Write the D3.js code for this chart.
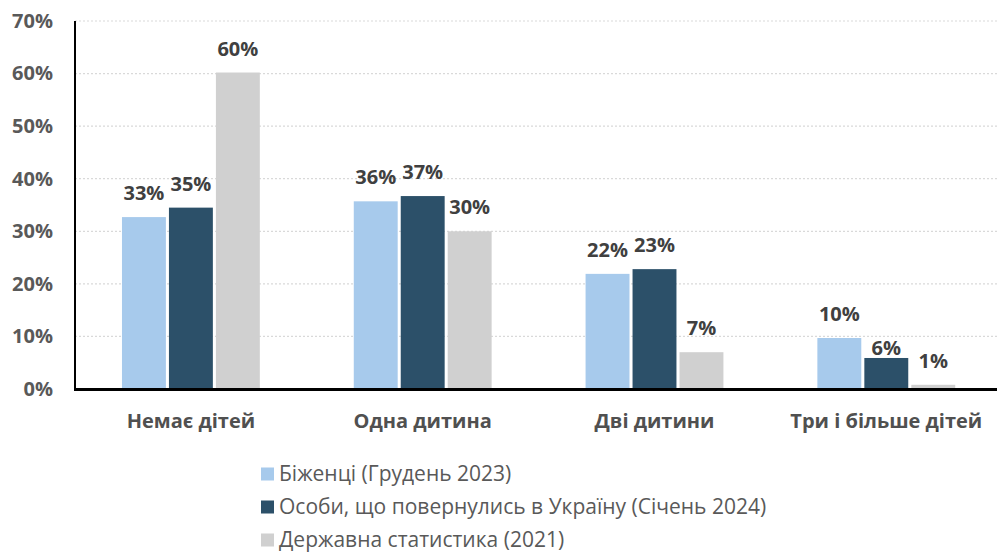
<!DOCTYPE html>
<html>
<head>
<meta charset="utf-8">
<script src="https://cdn.jsdelivr.net/npm/d3@7"></script>
<style>
  html, body { margin: 0; padding: 0; background: #fff; }
  svg { display: block; }
</style>
</head>
<body>
<svg id="chart" width="997" height="553"></svg>
<script>
const categories = ["Немає дітей", "Одна дитина", "Дві дитини", "Три і більше дітей"];
const seriesNames = ["Біженці (Грудень 2023)", "Особи, що повернулись в Україну (Січень 2024)", "Державна статистика (2021)"];
const refugees = [32.7, 35.7, 21.9, 9.7];
const returnees = [34.5, 36.7, 22.8, 5.9];
const stateStats = [60.2, 30.0, 7.0, 0.8];
const refugeesLabels = ["33%", "36%", "22%", "10%"];
const returneesLabels = ["35%", "37%", "23%", "6%"];
const stateStatsLabels = ["60%", "30%", "7%", "1%"];
const yTicks = [0, 10, 20, 30, 40, 50, 60, 70];
const colors = ["#a7caec", "#2c5069", "#d0d0d0"];

const seriesValues = [refugees, returnees, stateStats];
const seriesLabels = [refugeesLabels, returneesLabels, stateStatsLabels];

const svg = d3.select("#chart");
const m = { left: 75, right: 997, top: 21, bottom: 389 };

const x = d3.scaleBand().domain(categories).range([m.left, m.left + 4 * 231.8]).paddingInner(0).paddingOuter(0);
const x1 = d3.scaleBand().domain(d3.range(3)).range([0, x.bandwidth()]).paddingInner(0.065).paddingOuter(1.0);
const y = d3.scaleLinear().domain([0, 70]).range([m.bottom, m.top]);

// gridlines
svg.append("g").selectAll("line").data(yTicks.filter(t => t > 0)).join("line")
  .attr("x1", m.left).attr("x2", m.right)
  .attr("y1", d => y(d)).attr("y2", d => y(d))
  .attr("stroke", "#d9d9d9").attr("stroke-width", 1.2).attr("stroke-dasharray", "2,2");

// y tick labels
const yAxis = d3.axisLeft(y).tickValues(yTicks).tickFormat(d => d + "%").tickSize(0).tickPadding(22);
const gy = svg.append("g").attr("transform", `translate(${m.left},0)`).call(yAxis);
gy.select(".domain").remove();
gy.selectAll("text").attr("font-family", "'Open Sans', sans-serif").attr("font-weight", "bold")
  .attr("font-size", 20).attr("fill", "#595959");

// bars
categories.forEach((c, ci) => {
  seriesValues.forEach((vals, si) => {
    const bx = x(c) + x1(si);
    svg.append("rect")
      .attr("x", bx).attr("width", x1.bandwidth())
      .attr("y", y(vals[ci])).attr("height", y(0) - y(vals[ci]))
      .attr("fill", colors[si]);
    svg.append("text")
      .attr("x", bx + x1.bandwidth() / 2)
      .attr("y", y(vals[ci]) - (si === 1 && ci === 3 ? 3 : 17))
      .attr("text-anchor", "middle")
      .attr("font-family", "'Open Sans', sans-serif").attr("font-weight", "bold")
      .attr("font-size", 20).attr("fill", "#404040")
      .text(seriesLabels[si][ci]);
  });
});

// axes lines
svg.append("line").attr("x1", m.left).attr("x2", m.left).attr("y1", m.top).attr("y2", m.bottom + 1)
  .attr("stroke", "#000").attr("stroke-width", 2);
svg.append("line").attr("x1", m.left - 1).attr("x2", m.right).attr("y1", m.bottom + 0.5).attr("y2", m.bottom + 0.5)
  .attr("stroke", "#000").attr("stroke-width", 3);

// x axis labels
const xAxis = d3.axisBottom(x).tickSize(0).tickPadding(25);
const gx = svg.append("g").attr("transform", `translate(0,${m.bottom})`).call(xAxis);
gx.select(".domain").remove();
gx.selectAll("text").attr("font-family", "'Open Sans', sans-serif").attr("font-weight", "bold")
  .attr("font-size", 20).attr("fill", "#505050");

// legend
const lg = svg.append("g");
seriesNames.forEach((n, i) => {
  const cy = 474 + i * 33;
  lg.append("rect").attr("x", 261).attr("y", cy - 6.5).attr("width", 13).attr("height", 13).attr("fill", colors[i]);
  lg.append("text").attr("x", 279).attr("y", cy).attr("dy", "0.35em")
    .attr("font-family", "'Open Sans', sans-serif").attr("font-size", 21).attr("fill", "#595959").text(n);
});
</script>
</body>
</html>
